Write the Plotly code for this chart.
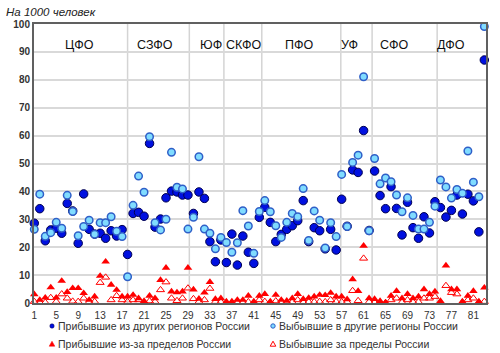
import plotly.graph_objects as go

regions = list(range(1, 84))

arr_regions = [28.6, 33.8, 22.3, 26.2, 26.8, 25.0, 35.7, 33.0, 21.4, 39.1,
               26.4, 24.7, 25.0, 23.2, 25.9, 24.0, 26.3, 17.4, 32.1, 32.5,
               31.1, 57.2, 27.2, 30.1, 37.7, 40.1, 39.8, 38.7, 38.7, 32.1,
               39.8, 37.5, 22.0, 14.8, 22.6, 14.5, 24.7, 13.6, 24.0, 18.2,
               14.2, 30.7, 34.3, 28.9, 22.0, 24.6, 26.4, 27.7, 29.5, 36.7,
               22.0, 27.0, 25.9, 19.4, 26.4, 19.0, 37.2, 27.5, 47.7, 46.8,
               61.8, 26.0, 47.3, 38.5, 33.8, 41.7, 33.9, 24.4, 36.1, 27.0,
               23.2, 30.9, 25.1, 36.3, 34.2, 30.8, 33.2, 38.7, 31.9, 39.0,
               36.6, 25.5, 87.1]

dep_regions = [26.4, 39.0, 23.9, 25.2, 28.9, 26.8, 38.6, 32.8, 24.1, 27.4,
               29.7, 24.6, 28.8, 28.8, 30.9, 25.7, 23.8, 9.4, 35.0, 45.5,
               39.7, 59.6, 28.8, 26.2, 30.0, 54.0, 41.5, 40.9, 26.5, 30.7,
               52.4, 26.5, 25.0, 19.4, 23.5, 21.7, 18.2, 21.6, 33.1, 27.6,
               17.8, 32.8, 36.7, 32.7, 27.7, 23.5, 28.9, 32.1, 30.9, 41.0,
               22.4, 33.0, 29.7, 19.7, 28.8, 23.8, 46.1, 27.4, 50.4, 53.0,
               81.1, 25.9, 51.8, 42.7, 44.8, 43.5, 38.7, 32.7, 37.7, 31.4,
               26.5, 26.5, 28.9, 34.7, 44.1, 41.6, 37.6, 40.7, 39.3, 54.5,
               43.3, 38.1, 99.1]

arr_abroad = [3.1, 1.1, 1.9, 5.6, 1.9, 7.9, 3.9, 5.3, 5.3, 3.5,
              1.1, 2.3, 9.7, 14.8, 6.5, 4.7, 2.3, 2.3, 2.9, 1.7,
              0.7, 2.6, 1.7, 8.2, 12.6, 4.1, 3.8, 4.1, 12.6, 4.8,
              1.5, 3.7, 7.5, 1.4, 1.7, 0.5, 0.5, 1.1, 1.1, 2.6,
              0.5, 2.6, 3.2, 0.5, 2.9, 1.1, 0.8, 1.7, 3.2, 1.4,
              1.8, 2.3, 2.9, 2.8, 3.6, 2.3, 2.3, 1.3, 8.5, 4.3,
              20.5, 1.7, 1.4, 0.7, 0.1, 2.6, 4.3, 1.7, 3.2, 1.7,
              2.3, 4.9, 3.2, 4.1, 0.7, 13.4, 4.9, 4.9, 0.5, 2.6,
              4.3, 0.5, 5.5]

dep_abroad = [0.5, 0.2, 0.2, 1.9, 0.5, 3.2, 1.7, 0.6, 0.5, 1.7,
              0.4, 0.5, 7.3, 9.2, 1.1, 2.6, 1.1, 0.5, 1.1, 1.1,
              0.1, 0.7, 0.5, 4.7, 7.5, 1.7, 0.8, 1.7, 5.3, 1.5,
              0.5, 1.1, 5.2, 0.5, 0.4, 0.1, 0.2, 0.2, 0.3, 0.4,
              0.2, 1.1, 0.5, 0.2, 0.7, 0.3, 0.2, 0.4, 1.1, 0.3,
              0.4, 0.4, 0.5, 0.4, 1.1, 0.5, 0.4, 0.4, 4.4, 0.8,
              16.0, 0.4, 0.2, 0.2, 0.1, 1.1, 1.7, 0.3, 1.1, 0.4,
              0.4, 1.7, 1.7, 2.3, 0.2, 6.2, 3.7, 3.2, 0.2, 1.1,
              1.7, 0.2, 0.5]

district_names = ["ЦФО", "СЗФО", "ЮФ", "СКФО", "ПФО", "УФ", "СФО", "ДФО"]
district_label_x = [9.3, 23.0, 33.2, 39.1, 49.2, 58.5, 66.7, 76.9]
separators = [18.0, 29.25, 35.55, 42.45, 56.85, 62.55, 74.4]
x_ticks = list(range(1, 84, 4))

series_names = ["Прибывшие из других регионов России",
                "Выбывшие в другие регионы России",
                "Прибывшие из-за пределов России",
                "Выбывшие за пределы России"]

FONT = "Liberation Sans, Arial, sans-serif"
DARK = "#0010E0"
LIGHT = "#80DCFF"
RED = "#FF0000"

W, H = 500, 353
L, R, T, B = 34, 14, 24, 50
PW, PH = W - L - R, H - T - B


def px2x(px):
    return (px - L) / PW


def px2y(py):
    return (H - B - py) / PH


fig = go.Figure()
fig.add_trace(go.Scatter(x=regions, y=arr_regions, mode="markers", name=series_names[0],
                         marker=dict(size=8.5, color=DARK, line=dict(color="#000050", width=1)),
                         cliponaxis=False))
fig.add_trace(go.Scatter(x=regions, y=dep_regions, mode="markers", name=series_names[1],
                         marker=dict(size=7.5, color=LIGHT, line=dict(color="#2F5FC8", width=1.5)),
                         cliponaxis=False))
fig.add_trace(go.Scatter(x=regions, y=arr_abroad, mode="markers", name=series_names[2],
                         marker=dict(size=7.5, symbol="triangle-up", color=RED, line=dict(width=0)),
                         cliponaxis=False))
fig.add_trace(go.Scatter(x=regions, y=dep_abroad, mode="markers", name=series_names[3],
                         marker=dict(size=7, symbol="triangle-up-open", color=RED, line=dict(width=1)),
                         cliponaxis=False))

shapes = []
for s in separators:
    shapes.append(dict(type="line", xref="x", yref="y", x0=s, x1=s, y0=0, y1=100,
                       line=dict(color="#D4D4D4", width=1.5), layer="below"))

annotations = []
for name, xv in zip(district_names, district_label_x):
    annotations.append(dict(x=xv, y=92.6, xref="x", yref="y", text=name, showarrow=False,
                            font=dict(family=FONT, size=12.5, color="#111111")))
annotations.append(dict(x=px2x(4), y=px2y(12), xref="paper", yref="paper",
                        text="<i>На 1000 человек</i>",
                        showarrow=False, xanchor="left", yanchor="middle",
                        font=dict(family=FONT, size=11.5, color="#222222")))

# manual legend
leg = [(52, 326, series_names[0]), (273, 326, series_names[1]),
       (52, 344, series_names[2]), (273, 344, series_names[3])]
for (px, py, txt) in leg:
    annotations.append(dict(x=px2x(px + 4), y=px2y(py), xref="paper", yref="paper", text=txt,
                            showarrow=False, xanchor="left", yanchor="middle",
                            font=dict(family=FONT, size=10.5, color="#333333")))


def circle(cx, cy, r, fill, lc, lw):
    return dict(type="circle", xref="paper", yref="paper",
                x0=px2x(cx - r), x1=px2x(cx + r), y0=px2y(cy + r), y1=px2y(cy - r),
                fillcolor=fill, line=dict(color=lc, width=lw))


def tri(cx, cy, fill, lw):
    return dict(type="path", xref="paper", yref="paper",
                path=(f"M {px2x(cx-2.8)} {px2y(cy+2.2)} L {px2x(cx+2.8)} {px2y(cy+2.2)} "
                      f"L {px2x(cx)} {px2y(cy-2.8)} Z"),
                fillcolor=fill, line=dict(color=RED, width=lw))


shapes.append(circle(52, 326, 2.2, DARK, "#000050", 0.5))
shapes.append(circle(273, 326, 2.2, LIGHT, "#2F5FC8", 1))
shapes.append(tri(52, 344, RED, 0.5))
shapes.append(tri(273, 344, "white", 1))

fig.update_layout(
    width=W, height=H,
    margin=dict(l=L, r=R, t=T, b=B),
    paper_bgcolor="white", plot_bgcolor="white",
    showlegend=False,
    shapes=shapes, annotations=annotations,
    xaxis=dict(range=[0.95, 83.3], tickvals=x_ticks, showgrid=False, zeroline=False,
               showline=True, linecolor="#606060", linewidth=2, mirror=True,
               ticks="", tickfont=dict(family=FONT, size=10, color="#333333"), ticklabelstandoff=2),
    yaxis=dict(range=[0, 100], dtick=10, showgrid=True, gridcolor="#D9D9D9", gridwidth=1.5,
               zeroline=False, showline=True, linecolor="#606060", linewidth=2, mirror=True,
               ticks="", tickfont=dict(family=FONT, size=10, color="#333333", weight="bold")),
)

fig.write_html("out.html")
